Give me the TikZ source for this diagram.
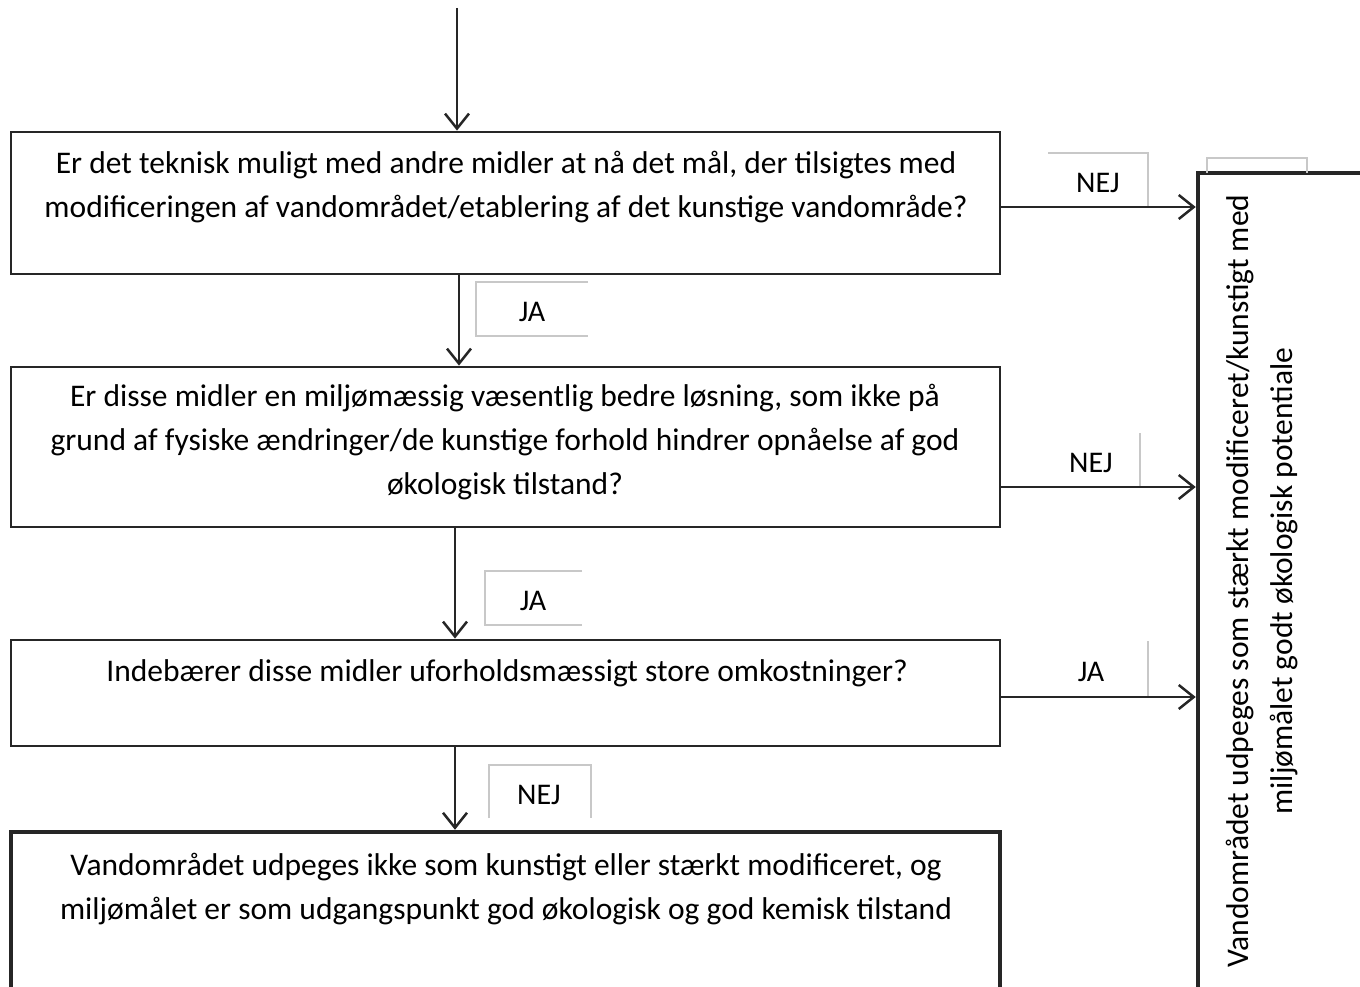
\documentclass[tikz,border=0pt]{standalone}
\usepackage{fontspec}
\setmainfont{Carlito}
\usetikzlibrary{arrows.meta,positioning}
\definecolor{linecol}{HTML}{262626}
\definecolor{tagcol}{HTML}{C8C8C8}
\tikzset{
  qbox/.style={draw=linecol, line width=2.8pt, minimum width=989pt, inner sep=0pt},
  endbox/.style={qbox, line width=4.5pt},
  qtext/.style={align=center, font=\fontsize{31.5}{44}\selectfont, inner sep=0pt},
  tag/.style={font=\fontsize{30}{40}\selectfont, inner sep=0pt},
  tagline/.style={draw=tagcol, line width=1.2pt},
  flow/.style={draw=linecol, line width=2.5pt,
    -{Straight Barb[length=15pt,width=24pt,line width=2.5pt]}}
}
\begin{document}
\begin{tikzpicture}[x=1pt,y=-1pt]
  \useasboundingbox (0,0) rectangle (1360,987);
  % question boxes
  \node[qbox, minimum height=142pt] (q1) at (505.5,203) {};
  \node[qbox, minimum height=160pt] (q2) at (505.5,447) {};
  \node[qbox, minimum height=106pt] (q3) at (505.5,693) {};
  \node[endbox, minimum height=168pt] (q4) at (505.5,916) {};
  \node[endbox, minimum width=182pt, minimum height=827pt] (res) at (1289,586.5) {};
  % texts
  \node[qtext] (t1) at (506,187) {Er det teknisk muligt med andre midler at nå det mål, der tilsigtes med\\
    modificeringen af vandområdet/etablering af det kunstige vandområde?};
  \node[qtext] (t2) at (505,442) {Er disse midler en miljømæssig væsentlig bedre løsning, som ikke på\\
    grund af fysiske ændringer/de kunstige forhold hindrer opnåelse af god\\
    økologisk tilstand?};
  \node[qtext] (t3) at (507,673) {Indebærer disse midler uforholdsmæssigt store omkostninger?};
  \node[qtext] (t4) at (506,889) {Vandområdet udpeges ikke som kunstigt eller stærkt modificeret, og\\
    miljømålet er som udgangspunkt god økologisk og god kemisk tilstand};
  \node[qtext, rotate=90] (t5) at (1262,581) {Vandområdet udpeges som stærkt modificeret/kunstigt med\\
    miljømålet godt økologisk potentiale};
  % label frames
  \draw[tagline] (1048,153) -- (1148,153) -- (1148,207);
  \draw[tagline] (1207,173) -- (1207,158) -- (1307,158) -- (1307,173);
  \draw[tagline] (588,282) -- (476,282) -- (476,336) -- (588,336);
  \draw[tagline] (1140,433) -- (1140,487);
  \draw[tagline] (582,571) -- (485,571) -- (485,625) -- (582,625);
  \draw[tagline] (1148,641) -- (1148,697);
  \draw[tagline] (489,818) -- (489,765) -- (591,765) -- (591,818);
  \node[tag] (nej1) at (1098,183) {NEJ};
  \node[tag] (ja1) at (532,312) {JA};
  \node[tag] (nej2) at (1091,463) {NEJ};
  \node[tag] (ja2) at (533,601) {JA};
  \node[tag] (ja3) at (1091,672) {JA};
  \node[tag] (nej3) at (539,795) {NEJ};
  % connectors
  \coordinate (start) at (457,8);
  \draw[flow] (start) -- (start |- q1.north);
  \coordinate (d1) at ([xshift=-46.5pt]q1.south);
  \draw[flow] (d1) -- (d1 |- q2.north);
  \coordinate (d2) at ([xshift=-50.5pt]q2.south);
  \draw[flow] (d2) -- (d2 |- q3.north);
  \coordinate (d3) at ([xshift=-50.5pt]q3.south);
  \draw[flow] (d3) -- (d3 |- q4.north);
  \coordinate (s1) at ([yshift=-4pt]q1.east);
  \draw[flow] (s1) -- (s1 -| res.west);
  \coordinate (s2) at ([yshift=-40pt]q2.east);
  \draw[flow] (s2) -- (s2 -| res.west);
  \coordinate (s3) at ([yshift=-4pt]q3.east);
  \draw[flow] (s3) -- (s3 -| res.west);
\end{tikzpicture}
\end{document}
